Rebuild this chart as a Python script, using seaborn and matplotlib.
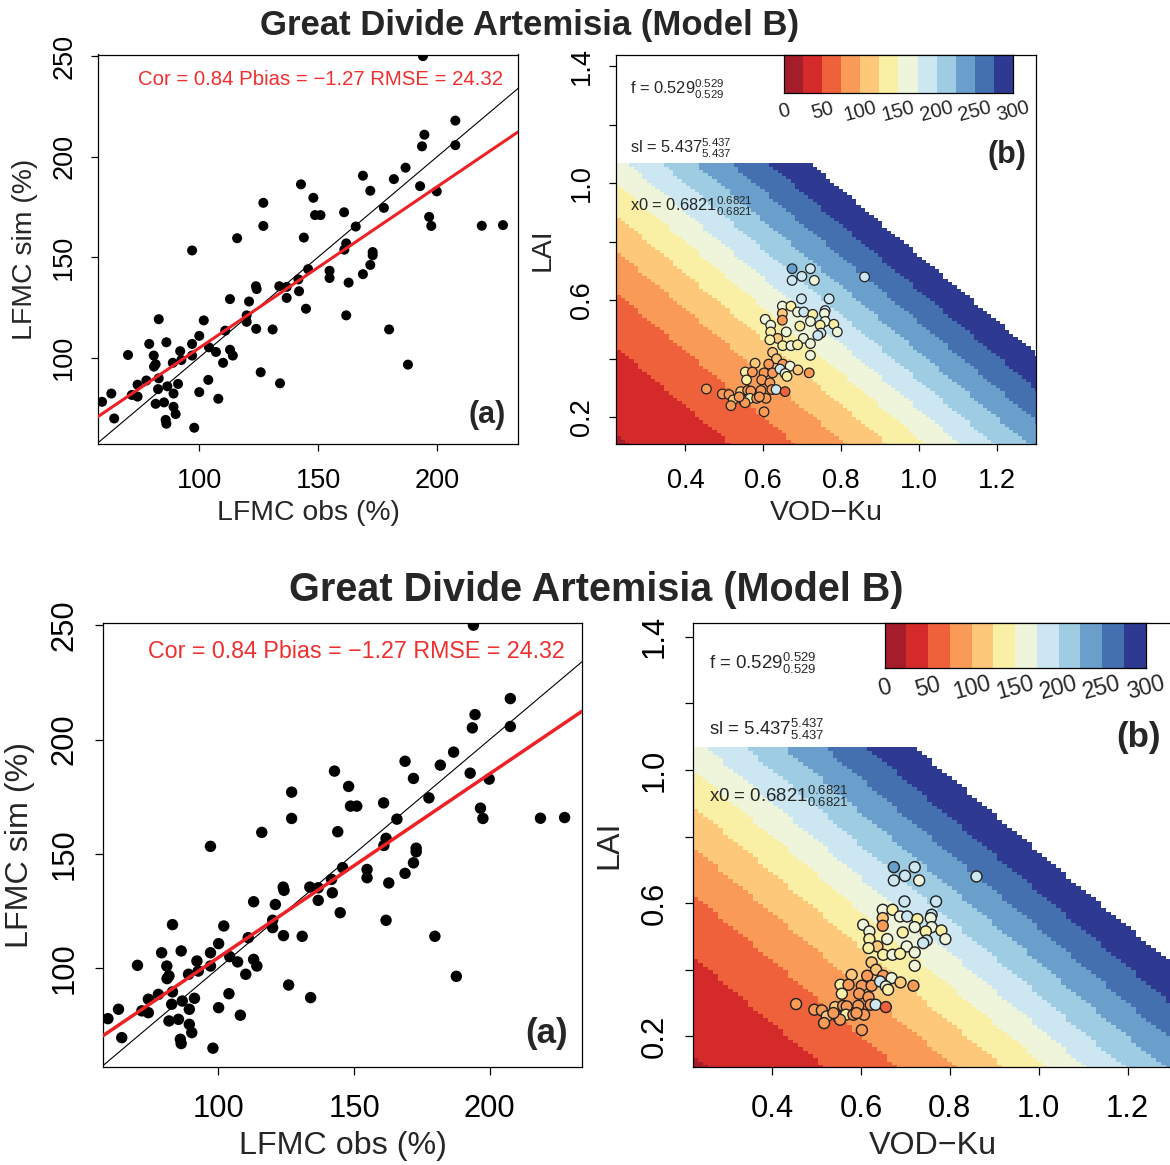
import numpy as np
import matplotlib.pyplot as plt
from matplotlib.colors import ListedColormap, BoundaryNorm
import seaborn as sns

# panel (a): observed vs simulated LFMC (%)
lfmc_obs = [194, 207.6, 194.6, 193.6, 207.6, 186.7, 168.8, 181.8, 192.8, 142.8,
            171.9, 199.8, 148.0, 127.0, 177.6, 148.7, 151.0, 160.9, 196.6, 197.5,
            218.7, 227.6, 127.0, 144.0, 116.0, 165.8, 97.1, 161.8, 161.0, 172.9,
            172.9, 171.9, 145.8, 154.8, 154.8, 168.8, 162.8, 141.7, 142.0, 133.7,
            136.8, 136.8, 123.9, 124.2, 144.9, 161.8, 113.0, 121.0, 120.0, 120.0,
            130.9, 124.0, 179.8, 187.7, 111.0, 102.0, 83.1, 100.1, 97.1, 86.3,
            79.1, 92.1, 104.2, 107.1, 113.0, 114.2, 97.1, 81.0, 70.2, 89.0,
            81.8, 81.1, 110.1, 103.9, 125.9, 134.0, 100.1, 108.1, 83.1, 77.9,
            74.2, 71.8, 74.2, 82.8, 86.7, 91.2, 89.3, 85.3, 81.8, 89.3,
            90.2, 86.0, 86.3, 63.2, 59.3, 64.4, 98.0, 92.6]
lfmc_sim = [250, 217.9, 210.9, 205.1, 205.7, 194.5, 190.5, 188.8, 185.3, 186.2,
            183.0, 182.7, 179.5, 177.0, 174.5, 170.9, 170.9, 172.3, 170.0, 165.5,
            165.6, 165.9, 165.5, 159.7, 159.4, 165.2, 153.3, 156.8, 153.7, 152.5,
            150.9, 146.1, 144.0, 143.2, 139.6, 141.5, 137.3, 138.9, 133.0, 135.5,
            135.2, 129.7, 135.5, 134.1, 124.3, 121.0, 129.1, 127.9, 121.0, 117.8,
            114.0, 114.3, 114.0, 96.5, 113.4, 118.5, 119.1, 110.8, 106.8, 107.6,
            106.8, 103.2, 105.1, 102.8, 103.9, 101.0, 101.0, 101.0, 101.3, 97.4,
            96.7, 95.5, 97.4, 88.9, 92.7, 87.2, 82.8, 79.5, 89.7, 88.6,
            86.5, 81.4, 80.6, 84.3, 85.7, 86.9, 82.1, 77.7, 77.0, 75.5,
            71.9, 69.0, 67.1, 82.1, 78.0, 69.7, 65.1, 98.8]

# panel (b): VOD-Ku, LAI and observed LFMC used for the point colour
vod = [0.674, 0.721, 0.699, 0.674, 0.731, 0.860, 0.698, 0.769, 0.649, 0.671,
       0.759, 0.757, 0.688, 0.704, 0.727, 0.649, 0.649, 0.605, 0.619, 0.694,
       0.721, 0.759, 0.781, 0.746, 0.619, 0.659, 0.748, 0.740, 0.790, 0.637,
       0.617, 0.703, 0.721, 0.650, 0.671, 0.688, 0.624, 0.721, 0.634, 0.614,
       0.650, 0.669, 0.579, 0.554, 0.572, 0.602, 0.624, 0.643, 0.656, 0.689,
       0.718, 0.557, 0.596, 0.617, 0.454, 0.495, 0.512, 0.542, 0.560, 0.568,
       0.594, 0.622, 0.633, 0.656, 0.523, 0.549, 0.566, 0.583, 0.607, 0.517,
       0.553, 0.602, 0.590, 0.538, 0.661]
lai = [0.708, 0.708, 0.682, 0.668, 0.668, 0.680, 0.605, 0.605, 0.580, 0.580,
       0.565, 0.555, 0.560, 0.560, 0.552, 0.555, 0.532, 0.535, 0.515, 0.512,
       0.528, 0.528, 0.518, 0.515, 0.492, 0.492, 0.488, 0.480, 0.492, 0.470,
       0.465, 0.470, 0.452, 0.445, 0.445, 0.448, 0.422, 0.412, 0.400, 0.382,
       0.382, 0.375, 0.385, 0.355, 0.355, 0.352, 0.352, 0.365, 0.350, 0.362,
       0.352, 0.328, 0.328, 0.318, 0.297, 0.280, 0.278, 0.288, 0.292, 0.290,
       0.292, 0.295, 0.295, 0.288, 0.260, 0.258, 0.265, 0.265, 0.265, 0.240,
       0.250, 0.219, 0.270, 0.270, 0.340]
lfmc_pt = [240, 190, 185, 180, 170, 190, 185, 190, 160, 140,
           190, 165, 160, 185, 135, 115, 85, 160, 160, 130,
           165, 165, 130, 135, 140, 160, 190, 190, 165, 110,
           130, 160, 165, 130, 160, 135, 110, 165, 110, 85,
           85, 150, 110, 135, 85, 85, 85, 190, 150, 110,
           90, 135, 85, 85, 85, 85, 85, 100, 85, 85,
           85, 85, 190, 60, 100, 85, 130, 85, 85, 85,
           85, 85, 85, 85, 135]

# model B parameters printed in panel (b)
f_par = 0.529
sl_par = 5.437
x0_par = 0.6821
lfmc_max = 400

levels = list(range(0, 325, 25))
level_labels = [0, 50, 100, 150, 200, 250, 300]
colours = ["#A51C2A", "#D52A2A", "#EF613B", "#F99A57", "#FDC87A", "#FAF0A5",
           "#EFF5DA", "#CCE7F2", "#9DCCE3", "#6A9FCB", "#4570B0", "#2E3A91"]

title = "Great Divide Artemisia (Model B)"
stats = "Cor = 0.84 Pbias = \u22121.27 RMSE = 24.32"
par_text = [r"f = $0.529_{0.529}^{0.529}$",
            r"sl = $5.437_{5.437}^{5.437}$",
            r"x0 = $0.6821_{0.6821}^{0.6821}$"]
par_lai = [1.32, 1.12, 0.92]

sns.set_style("ticks")
plt.rcParams["font.family"] = ["Liberation Sans", "DejaVu Sans"]
plt.rcParams["mathtext.default"] = "regular"

W, H = 1170, 1165
fig = plt.figure(figsize=(W / 100, H / 100), dpi=100)

cmap = ListedColormap(colours)
norm = BoundaryNorm(levels, cmap.N)

# model surface
vod_edges = np.linspace(0.20, 1.32, 101)
lai_edges = np.linspace(0.08, 1.068, 91)
vc = (vod_edges[:-1] + vod_edges[1:]) / 2
lc = (lai_edges[:-1] + lai_edges[1:]) / 2
V, L = np.meshgrid(vc, lc)
Z = lfmc_max / (1 + np.exp(-sl_par * (f_par * V + (1 - f_par) * L - x0_par)))
Z = np.ma.masked_greater(Z, 300)

pt_pal = {v: cmap(norm(v)) for v in set(lfmc_pt)}


def fig_rect(l, t, r, b):
    return [l / W, 1 - b / H, (r - l) / W, (b - t) / H]


def style_axes(ax, k):
    for s in ax.spines.values():
        s.set_visible(True)
        s.set_color("black")
        s.set_linewidth(0.9)
    ax.tick_params(axis="both", direction="out", length=5 * k, width=0.9,
                   colors="black", labelsize=19.5 * k)
    ax.tick_params(axis="x", pad=12 * k)
    ax.tick_params(axis="y", pad=10 * k)
    for lab in ax.get_yticklabels():
        lab.set_rotation(90)
        lab.set_va("center")


def draw_copy(rect_a, rect_b, k, title_xy):
    ax_a = fig.add_axes(fig_rect(*rect_a))
    ax_b = fig.add_axes(fig_rect(*rect_b))

    # (a) scatter of obs vs sim
    ax_a.set_xlim(57.6, 233.9)
    ax_a.set_ylim(57, 250.8)
    sns.scatterplot(x=lfmc_obs, y=lfmc_sim, color="black", s=52 * k * k,
                    edgecolor="none", legend=False, ax=ax_a, zorder=3)
    ax_a.axline((0, 0), slope=1, color="black", lw=0.8, zorder=2)
    sns.regplot(x=lfmc_obs, y=lfmc_sim, scatter=False, ci=None, truncate=False,
                color="#EC2227", line_kws=dict(lw=2.2 * k, zorder=4), ax=ax_a)
    ax_a.set_xticks([100, 150, 200])
    ax_a.set_yticks([100, 150, 200, 250])
    style_axes(ax_a, k)
    ax_a.set_xlabel("LFMC obs (%)", fontsize=20.4 * k)
    ax_a.set_ylabel("LFMC sim (%)", fontsize=20.4 * k)
    ax_a.xaxis.set_label_coords(0.5, -0.178)
    ax_a.xaxis.label.set_va("center")
    ax_a.yaxis.set_label_coords(-0.174, 0.5)
    ax_a.yaxis.label.set_va("center")
    ax_a.text(0.964, 0.936, stats, color="#F03030", fontsize=14.7 * k,
              ha="right", va="center", transform=ax_a.transAxes)
    ax_a.text(0.926, 0.075, "(a)", fontsize=22 * k, fontweight="bold",
              ha="center", va="center", transform=ax_a.transAxes)

    # (b) model surface with observations
    ax_b.pcolormesh(vod_edges, lai_edges, Z, cmap=cmap, norm=norm)
    sns.scatterplot(x=vod, y=lai, hue=lfmc_pt, palette=pt_pal, s=48 * k * k,
                    edgecolor="#222222", linewidth=0.9 * k, legend=False,
                    ax=ax_b, zorder=3)
    ax_b.set_xlim(0.222, 1.30)
    ax_b.set_ylim(0.109, 1.44)
    ax_b.set_xticks([0.4, 0.6, 0.8, 1.0, 1.2])
    ax_b.set_yticks([0.2, 0.4, 0.6, 0.8, 1.0, 1.2, 1.4])
    ax_b.set_yticklabels(["0.2", "", "0.6", "", "1.0", "", "1.4"])
    style_axes(ax_b, k)
    ax_b.set_xlabel("VOD\u2212Ku", fontsize=20.4 * k)
    ax_b.set_ylabel("LAI", fontsize=20.4 * k)
    ax_b.xaxis.set_label_coords(0.5, -0.178)
    ax_b.xaxis.label.set_va("center")
    ax_b.yaxis.set_label_coords(-0.174, 0.5)
    ax_b.yaxis.label.set_va("center")
    for txt, y in zip(par_text, par_lai):
        ax_b.text(0.258, y, txt, fontsize=11.8 * k, ha="left", va="center")
    ax_b.text(0.93, 0.742, "(b)", fontsize=22 * k, fontweight="bold",
              ha="center", va="center", transform=ax_b.transAxes)

    cax = ax_b.inset_axes([0.40, 0.90, 0.545, 0.10])
    mids = [(a + b) / 2 for a, b in zip(levels[:-1], levels[1:])]
    cax.pcolormesh(levels, [0, 1], [mids], cmap=cmap, norm=norm)
    cax.set_xlim(0, 300)
    cax.set_xticks([])
    cax.set_yticks([])
    for s in cax.spines.values():
        s.set_visible(True)
        s.set_color("black")
        s.set_linewidth(0.9)
    for v in level_labels:
        cax.text(v, -0.45, str(v), fontsize=14.5 * k, rotation=15,
                 ha="center", va="center", rotation_mode="anchor",
                 transform=cax.get_xaxis_transform())

    fig.text(title_xy[0] / W, 1 - title_xy[1] / H, title, fontsize=25 * k,
             fontweight="bold", ha="center", va="center")


draw_copy((98, 54.5, 518, 444), (616, 54.5, 1036, 444), 1.0, (530, 25))
draw_copy((103.3, 623.3, 581.7, 1066.7), (693, 623.3, 1172, 1066.7), 1.14, (596, 590))

fig.savefig("out.png", dpi=100)
